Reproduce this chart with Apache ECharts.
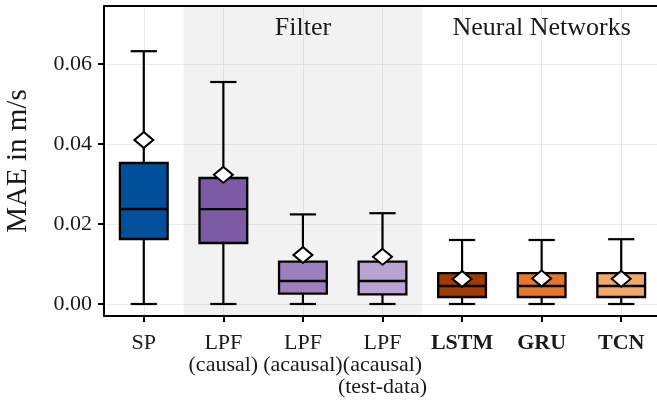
<!DOCTYPE html>
<html><head><meta charset="utf-8">
<script src="https://cdn.jsdelivr.net/npm/echarts@6/dist/echarts.min.js"></script>
<style>html,body{margin:0;padding:0;background:#fff}#c{width:657px;height:406px}</style>
</head><body><div id="c"></div>
<script>
const categories = ['SP','LPF\n(causal)','LPF\n(acausal)','LPF\n(acausal)\n(test-data)','LSTM','GRU','TCN'];
const boldCategory = [false,false,false,false,true,true,true];
const whiskerLow = [0,0,0,0,0,0,0];
const q1 = [0.01625,0.01525,0.0026,0.0024,0.00175,0.00175,0.00175];
const median = [0.02375,0.0237,0.00575,0.00575,0.0045,0.0045,0.0045];
const q3 = [0.03525,0.0315,0.0106,0.0106,0.0077,0.0077,0.0077];
const whiskerHigh = [0.0632,0.0555,0.0224,0.0227,0.016,0.016,0.0162];
const means = [0.041,0.0323,0.01225,0.0118,0.00625,0.0064,0.0063];
const boxColors = ['#02509b','#7d5aa4','#9c80be','#b7a4d2','#a03c00','#e5772a','#f1a767'];
const yTickValues = [0,0.02,0.04,0.06];
const groupNames = ['Filter','Neural Networks'];
const groupStart = [0.5,3.5];
const groupEnd = [3.5,6.5];
const groupShade = ['rgba(0,0,0,0.05)','rgba(0,0,0,0)'];

const FONT = 'Liberation Serif';
const chart = echarts.init(document.getElementById('c'), null, {renderer:'canvas'});

function renderItem(params, api){
  const i = api.value(0);
  const xc = api.coord([i, 0])[0];
  const band = api.size([1, 0])[0];
  const boxW = band * 0.6, capW = band * 0.33;
  const yLow = api.coord([i, api.value(1)])[1];
  const yQ1 = api.coord([i, api.value(2)])[1];
  const yMed = api.coord([i, api.value(3)])[1];
  const yQ3 = api.coord([i, api.value(4)])[1];
  const yHigh = api.coord([i, api.value(5)])[1];
  const ls = {stroke:'#000', lineWidth:2.2};
  return {type:'group', children:[
    {type:'line', shape:{x1:xc,y1:yLow,x2:xc,y2:yQ1}, style:ls},
    {type:'line', shape:{x1:xc,y1:yQ3,x2:xc,y2:yHigh}, style:ls},
    {type:'line', shape:{x1:xc-capW/2,y1:yLow,x2:xc+capW/2,y2:yLow}, style:ls},
    {type:'line', shape:{x1:xc-capW/2,y1:yHigh,x2:xc+capW/2,y2:yHigh}, style:ls},
    {type:'rect', shape:{x:xc-boxW/2,y:yQ3,width:boxW,height:yQ1-yQ3}, style:{fill:boxColors[i],stroke:'#000',lineWidth:2.3}},
    {type:'line', shape:{x1:xc-boxW/2,y1:yMed,x2:xc+boxW/2,y2:yMed}, style:{stroke:'#000',lineWidth:2.3}}
  ]};
}

const option = {
  animation:false,
  textStyle:{fontFamily:FONT},
  grid:{left:104, top:6, right:-4, bottom:90, containLabel:false, outerBoundsMode:'none'},
  xAxis:[{
    type:'category', data:categories, boundaryGap:true, position:'bottom',
    axisLine:{show:true, onZero:false, lineStyle:{color:'#000', width:2}},
    axisTick:{show:true, alignWithLabel:true, length:6, lineStyle:{color:'#000', width:2}},
    splitLine:{show:false},
    axisLabel:{interval:0, margin:16, fontFamily:FONT, fontSize:22, color:'#1a1a1a', lineHeight:22,
      formatter:function(v, idx){
        const k = boldCategory[idx] ? 'b' : 'n';
        return v.split('\n').map(s => '{'+k+'|'+s+'}').join('\n');
      },
      rich:{n:{fontFamily:FONT,fontSize:22,color:'#1a1a1a',lineHeight:22}, b:{fontFamily:FONT,fontSize:22,fontWeight:'bold',color:'#1a1a1a',lineHeight:22}}
    }
  },{
    type:'value', position:'top', min:-0.5, max:6.5, splitNumber:7,
    axisLine:{show:true, onZero:false, lineStyle:{color:'#000', width:2}},
    axisTick:{show:false}, axisLabel:{show:false},
    splitLine:{show:true, lineStyle:{color:'#ebebeb', width:1}}
  }],
  yAxis:{
    type:'value', min:-0.003, max:0.0745, splitNumber:4,
    name:'MAE in m/s', nameLocation:'middle', nameGap:71, nameRotate:90,
    nameTextStyle:{fontFamily:FONT, fontSize:29, color:'#1a1a1a'},
    axisLine:{show:true, onZero:false, lineStyle:{color:'#000', width:2}},
    axisTick:{show:true, length:6, lineStyle:{color:'#000', width:2}},
    splitLine:{show:true, lineStyle:{color:'#ebebeb', width:1}},
    axisLabel:{fontFamily:FONT, fontSize:22, color:'#1a1a1a', margin:12, showMinLabel:false, showMaxLabel:false,
      formatter:function(v){ const hit = yTickValues.find(t => Math.abs(t-v) < 1e-9); return hit === undefined ? '' : hit.toFixed(2); }}
  },
  series:[{
    type:'line', xAxisIndex:1, data:[], z:1, silent:true,
    markArea:{silent:true, data: groupNames.map((n,i) => [
      {xAxis:groupStart[i], name:n, itemStyle:{color:groupShade[i]},
       label:{show:true, position:'insideTop', distance:9, color:'#1a1a1a', fontFamily:FONT, fontSize:26}},
      {xAxis:groupEnd[i]}
    ])}
  },{
    type:'custom', xAxisIndex:0, renderItem:renderItem, z:3,
    encode:{x:0, y:[1,2,3,4,5]},
    data: categories.map((c,i) => [i, whiskerLow[i], q1[i], median[i], q3[i], whiskerHigh[i]])
  },{
    type:'scatter', xAxisIndex:0, z:5, symbol:'diamond', symbolSize:[19,16],
    itemStyle:{color:'#fff', borderColor:'#000', borderWidth:2, opacity:1},
    data: means.map((m,i) => [i, m])
  }]
};
chart.setOption(option);
</script></body></html>
